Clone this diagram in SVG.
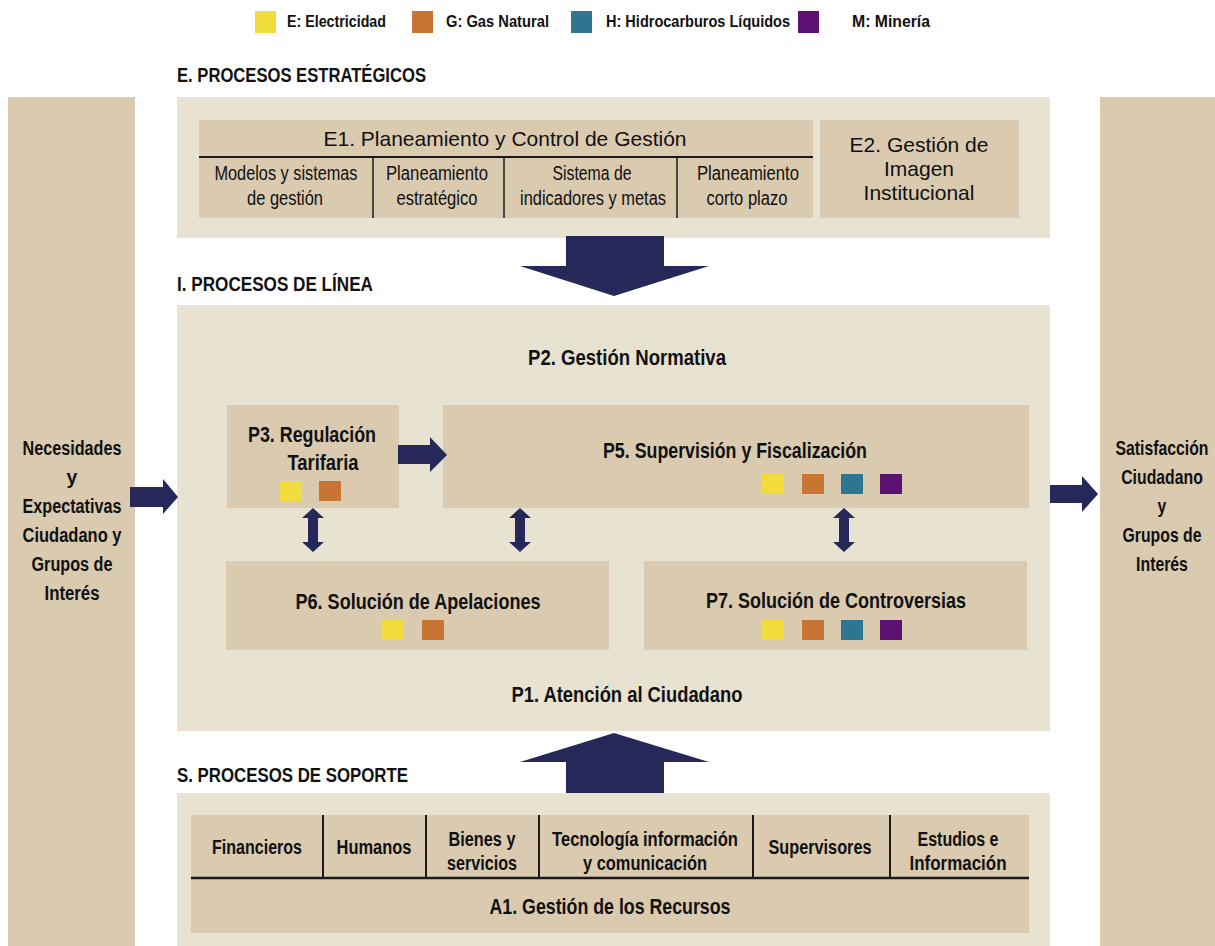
<svg xmlns="http://www.w3.org/2000/svg" width="1215" height="946" viewBox="0 0 1215 946">
  <style>
    .bg { fill: #E8E2D0; }
    .box { fill: #D9CAB0; }
    .arrow { fill: #252858; }
    .sep { stroke: #1a1a1a; fill: none; }
    text { fill: #111; font-family: "Liberation Sans", Arial, sans-serif; }
    .b { font-weight: bold; }
    .c { text-anchor: middle; }
    .hdr { font-size: 20px; }
    .lg { font-size: 17px; }
    .p { font-size: 21.5px; }
    .side { font-size: 19.5px; }
    .sub { font-size: 19.5px; }
    .sup { font-size: 19.5px; }
    .big { font-size: 21px; }
    .e { fill: #F0DC3C; }
    .g { fill: #C87533; }
    .h { fill: #2E7591; }
    .m { fill: #5C1173; }
  </style>

  <rect x="0" y="0" width="1215" height="946" fill="#FFFFFF"/>

  <!-- sector legend -->
  <g id="legend">
    <rect class="e" x="255" y="11" width="21" height="22"/>
    <text class="b lg" x="287" y="27" textLength="99" lengthAdjust="spacingAndGlyphs">E: Electricidad</text>
    <rect class="g" x="412" y="11" width="21" height="22"/>
    <text class="b lg" x="446" y="27" textLength="103" lengthAdjust="spacingAndGlyphs">G: Gas Natural</text>
    <rect class="h" x="571" y="11" width="21" height="22"/>
    <text class="b lg" x="606" y="27" textLength="184" lengthAdjust="spacingAndGlyphs">H: Hidrocarburos Líquidos</text>
    <rect class="m" x="798" y="11" width="21" height="22"/>
    <text class="b lg" x="852" y="27" textLength="78" lengthAdjust="spacingAndGlyphs">M: Minería</text>
  </g>

  <!-- side columns -->
  <g id="needs">
    <rect class="box" x="8" y="97" width="127" height="849"/>
    <text class="b side c" x="72" y="455" textLength="99" lengthAdjust="spacingAndGlyphs">Necesidades</text>
    <text class="b side c" x="72" y="484">y</text>
    <text class="b side c" x="72" y="513" textLength="99" lengthAdjust="spacingAndGlyphs">Expectativas</text>
    <text class="b side c" x="72" y="542" textLength="99" lengthAdjust="spacingAndGlyphs">Ciudadano y</text>
    <text class="b side c" x="72" y="571" textLength="81" lengthAdjust="spacingAndGlyphs">Grupos de</text>
    <text class="b side c" x="72" y="600" textLength="55" lengthAdjust="spacingAndGlyphs">Interés</text>
  </g>
  <g id="satisfaction">
    <rect class="box" x="1100" y="97" width="115" height="849"/>
    <!-- condensed lettering: horizontally squeezed about the column centre -->
    <g transform="translate(1162 0) scale(0.81 1)">
      <text class="b side c" x="0" y="455">Satisfacción</text>
      <text class="b side c" x="0" y="484">Ciudadano</text>
      <text class="b side c" x="0" y="513">y</text>
      <text class="b side c" x="0" y="542">Grupos de</text>
      <text class="b side c" x="0" y="571">Interés</text>
    </g>
  </g>

  <!-- strategic processes -->
  <text class="b hdr" x="177" y="82" textLength="249" lengthAdjust="spacingAndGlyphs">E. PROCESOS ESTRATÉGICOS</text>
  <g id="strategic">
    <rect class="bg" x="177" y="97" width="873" height="141"/>
  </g>
  <g id="e1">
    <rect class="box" x="199" y="120" width="614" height="98"/>
    <text class="big c" x="505" y="146">E1. Planeamiento y Control de Gestión</text>
    <line class="sep" x1="199" y1="157" x2="813" y2="157" stroke-width="2"/>
    <line class="sep" x1="373" y1="157" x2="373" y2="218" stroke-width="1.5"/>
    <line class="sep" x1="504" y1="157" x2="504" y2="218" stroke-width="1.5"/>
    <line class="sep" x1="677" y1="157" x2="677" y2="218" stroke-width="1.5"/>
    <text class="sub c" x="286" y="180" textLength="143" lengthAdjust="spacingAndGlyphs">Modelos y sistemas</text>
    <text class="sub c" x="285" y="205" textLength="76" lengthAdjust="spacingAndGlyphs">de gestión</text>
    <text class="sub c" x="437" y="180" textLength="102" lengthAdjust="spacingAndGlyphs">Planeamiento</text>
    <text class="sub c" x="437" y="205" textLength="81" lengthAdjust="spacingAndGlyphs">estratégico</text>
    <text class="sub c" x="592" y="180" textLength="79" lengthAdjust="spacingAndGlyphs">Sistema de</text>
    <text class="sub c" x="593" y="205" textLength="146" lengthAdjust="spacingAndGlyphs">indicadores y metas</text>
    <text class="sub c" x="748" y="180" textLength="102" lengthAdjust="spacingAndGlyphs">Planeamiento</text>
    <text class="sub c" x="747" y="205" textLength="81" lengthAdjust="spacingAndGlyphs">corto plazo</text>
  </g>
  <g id="e2">
    <rect class="box" x="820" y="120" width="199" height="98"/>
    <text class="big c" x="919" y="152">E2. Gestión de</text>
    <text class="big c" x="919" y="176">Imagen</text>
    <text class="big c" x="919" y="200">Institucional</text>
  </g>

  <!-- line processes -->
  <text class="b hdr" x="177" y="291" textLength="196" lengthAdjust="spacingAndGlyphs">I. PROCESOS DE LÍNEA</text>
  <g id="line">
    <rect class="bg" x="177" y="305" width="873" height="426"/>
    <text class="b p c" x="627" y="365" textLength="198" lengthAdjust="spacingAndGlyphs">P2. Gestión Normativa</text>
    <text class="b p c" x="627" y="702" textLength="231" lengthAdjust="spacingAndGlyphs">P1. Atención al Ciudadano</text>
  </g>
  <g id="p3">
    <rect class="box" x="227" y="405" width="172" height="103"/>
    <text class="b p c" x="312" y="442" textLength="128" lengthAdjust="spacingAndGlyphs">P3. Regulación</text>
    <text class="b p c" x="323" y="470" textLength="71" lengthAdjust="spacingAndGlyphs">Tarifaria</text>
    <rect class="e" x="280" y="481" width="22" height="20"/>
    <rect class="g" x="319" y="481" width="22" height="20"/>
  </g>
  <g id="p5">
    <rect class="box" x="443" y="405" width="586" height="103"/>
    <text class="b p c" x="735" y="458" textLength="264" lengthAdjust="spacingAndGlyphs">P5. Supervisión y Fiscalización</text>
    <rect class="e" x="762" y="474" width="22" height="20"/>
    <rect class="g" x="802" y="474" width="22" height="20"/>
    <rect class="h" x="841" y="474" width="22" height="20"/>
    <rect class="m" x="880" y="474" width="22" height="20"/>
  </g>
  <g id="p6">
    <rect class="box" x="226" y="561" width="383" height="89"/>
    <text class="b p c" x="418" y="609" textLength="245" lengthAdjust="spacingAndGlyphs">P6. Solución de Apelaciones</text>
    <rect class="e" x="382" y="620" width="22" height="20"/>
    <rect class="g" x="422" y="620" width="22" height="20"/>
  </g>
  <g id="p7">
    <rect class="box" x="644" y="561" width="383" height="89"/>
    <text class="b p c" x="836" y="608" textLength="260" lengthAdjust="spacingAndGlyphs">P7. Solución de Controversias</text>
    <rect class="e" x="762" y="620" width="22" height="20"/>
    <rect class="g" x="802" y="620" width="22" height="20"/>
    <rect class="h" x="841" y="620" width="22" height="20"/>
    <rect class="m" x="880" y="620" width="22" height="20"/>
  </g>

  <!-- support processes -->
  <text class="b hdr" x="177" y="782" textLength="231" lengthAdjust="spacingAndGlyphs">S. PROCESOS DE SOPORTE</text>
  <g id="support">
    <rect class="bg" x="177" y="793" width="873" height="153"/>
  </g>
  <g id="a1">
    <rect class="box" x="191" y="815" width="838" height="118"/>
    <line class="sep" x1="191" y1="878" x2="1029" y2="878" stroke-width="2.5"/>
    <line class="sep" x1="323" y1="815" x2="323" y2="878" stroke-width="2"/>
    <line class="sep" x1="426" y1="815" x2="426" y2="878" stroke-width="2"/>
    <line class="sep" x1="539" y1="815" x2="539" y2="878" stroke-width="2"/>
    <line class="sep" x1="753" y1="815" x2="753" y2="878" stroke-width="2"/>
    <line class="sep" x1="890" y1="815" x2="890" y2="878" stroke-width="2"/>
    <text class="b sup c" x="257" y="854" textLength="90" lengthAdjust="spacingAndGlyphs">Financieros</text>
    <text class="b sup c" x="374" y="854" textLength="75" lengthAdjust="spacingAndGlyphs">Humanos</text>
    <text class="b sup c" x="482" y="846" textLength="67" lengthAdjust="spacingAndGlyphs">Bienes y</text>
    <text class="b sup c" x="482" y="870" textLength="70" lengthAdjust="spacingAndGlyphs">servicios</text>
    <text class="b sup c" x="645" y="846" textLength="186" lengthAdjust="spacingAndGlyphs">Tecnología información</text>
    <text class="b sup c" x="645" y="870" textLength="124" lengthAdjust="spacingAndGlyphs">y comunicación</text>
    <text class="b sup c" x="820" y="854" textLength="103" lengthAdjust="spacingAndGlyphs">Supervisores</text>
    <text class="b sup c" x="958" y="846" textLength="81" lengthAdjust="spacingAndGlyphs">Estudios e</text>
    <text class="b sup c" x="958" y="870" textLength="97" lengthAdjust="spacingAndGlyphs">Información</text>
    <text class="b p c" x="610" y="914" textLength="241" lengthAdjust="spacingAndGlyphs">A1. Gestión de los Recursos</text>
  </g>

  <!-- flow arrows -->
  <g id="connectors">
    <!-- strategic -> line -->
    <polygon class="arrow" points="566,236 664,236 664,266 709,266 614,296 520,266 566,266"/>
    <!-- support -> line -->
    <polygon class="arrow" points="614,733 709,762 664,762 664,793 566,793 566,762 520,762"/>
    <!-- needs -> line -->
    <polygon class="arrow" points="130,487 163,487 163,479 178,497 163,514 163,507 130,507"/>
    <!-- line -> satisfaction -->
    <polygon class="arrow" points="1050,485 1082,485 1082,476 1098,494 1082,512 1082,503 1050,503"/>
    <!-- P3 -> P5 -->
    <polygon class="arrow" points="398,445 430,445 430,437 447,455 430,472 430,464 398,464"/>
    <!-- P3 <-> P6 -->
    <polygon class="arrow" points="313,508 324,518 318,518 318,542 324,542 313,552 302,542 308,542 308,518 302,518"/>
    <!-- P5 <-> P6 -->
    <polygon class="arrow" points="520,508 531,518 525,518 525,542 531,542 520,552 509,542 515,542 515,518 509,518"/>
    <!-- P5 <-> P7 -->
    <polygon class="arrow" points="844,508 855,518 849,518 849,542 855,542 844,552 833,542 839,542 839,518 833,518"/>
  </g>
</svg>
